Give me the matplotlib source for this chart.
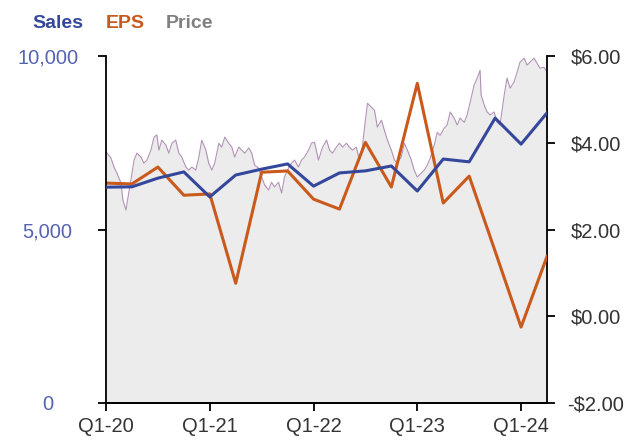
import matplotlib
matplotlib.use("Agg")
import matplotlib.pyplot as plt
from matplotlib.ticker import FuncFormatter

plt.rcParams['font.family'] = ['Liberation Sans', 'DejaVu Sans']

# quarterly data, Q1-20 .. Q2-24
quarters = ['Q1-20', 'Q2-20', 'Q3-20', 'Q4-20', 'Q1-21', 'Q2-21', 'Q3-21', 'Q4-21',
            'Q1-22', 'Q2-22', 'Q3-22', 'Q4-22', 'Q1-23', 'Q2-23', 'Q3-23', 'Q4-23',
            'Q1-24', 'Q2-24']
sales = [6220, 6230, 6480, 6660, 5940, 6570, 6740, 6890, 6250, 6630, 6690, 6830,
         6110, 7030, 6950, 8210, 7460, 8360]
eps = [3.07, 3.05, 3.44, 2.79, 2.82, 0.76, 3.32, 3.35, 2.70, 2.47, 4.01, 2.98,
       5.37, 2.61, 3.23, 1.50, -0.25, 1.38]

# share price (x in quarters since Q1-20)
price_q = [0.0, 0.04, 0.19, 0.31, 0.42, 0.58, 0.65, 0.77, 0.85, 0.96, 1.08, 1.19, 1.35,
           1.46, 1.58, 1.73, 1.85, 1.96, 2.04, 2.15, 2.31, 2.42, 2.54, 2.69, 2.81,
           2.92, 3.08, 3.19, 3.31, 3.46, 3.58, 3.69, 3.85, 3.96, 4.08, 4.19, 4.35,
           4.46, 4.58, 4.73, 4.85, 4.96, 5.12, 5.23, 5.35, 5.50, 5.62, 5.73, 5.88,
           6.00, 6.12, 6.27, 6.38, 6.50, 6.65, 6.77, 6.88, 7.04, 7.15, 7.27, 7.42,
           7.54, 7.65, 7.81, 7.92, 8.04, 8.19, 8.35, 8.50, 8.62, 8.73, 8.88, 9.00,
           9.12, 9.27, 9.38, 9.50, 9.65, 9.77, 9.88, 10.00, 10.08, 10.23, 10.35,
           10.46, 10.62, 10.73, 10.85, 11.00, 11.12, 11.23, 11.38, 11.50, 11.62,
           11.77, 11.88, 12.00, 12.15, 12.27, 12.38, 12.50, 12.65, 12.77, 12.88,
           13.04, 13.15, 13.27, 13.42, 13.54, 13.65, 13.81, 13.92, 14.04, 14.19,
           14.31, 14.42, 14.46, 14.58, 14.69, 14.81, 14.96, 15.08, 15.19, 15.35,
           15.46, 15.58, 15.73, 15.85, 15.96, 16.12, 16.23, 16.35, 16.50, 16.62,
           16.73, 16.88, 17.0]
price = [3.80, 3.76, 3.65, 3.44, 3.30, 3.07, 2.68, 2.45, 2.75, 3.14, 3.60, 3.76, 3.67,
         3.53, 3.60, 3.83, 4.13, 4.18, 3.83, 4.06, 3.95, 3.76, 3.99, 4.06, 3.76,
         3.67, 3.44, 3.37, 3.44, 3.37, 3.67, 4.06, 3.83, 3.53, 3.37, 3.53, 3.99,
         3.90, 4.13, 3.99, 3.90, 3.67, 3.90, 3.83, 3.76, 3.88, 3.76, 3.48, 3.42,
         3.21, 3.02, 2.91, 3.09, 2.98, 3.09, 2.84, 3.21, 3.42, 3.53, 3.60, 3.44,
         3.60, 3.67, 3.83, 3.99, 4.01, 3.60, 3.90, 4.06, 3.83, 3.76, 3.90, 3.99,
         3.90, 3.99, 3.90, 3.83, 3.90, 3.60, 3.90, 4.52, 4.91, 4.82, 4.75,
         4.36, 4.52, 4.29, 4.06, 3.83, 3.60, 3.53, 3.67, 3.99, 3.83,
         3.60, 3.37, 3.21, 3.30, 3.37, 3.48, 3.65, 3.94, 4.24, 4.17,
         4.34, 4.41, 4.71, 4.57, 4.41, 4.57, 4.47, 4.64, 4.94, 5.33,
         5.49, 5.67, 5.10, 4.87, 4.71, 4.64, 4.71, 4.47, 4.41, 5.10,
         5.49, 5.26, 5.40, 5.63, 5.86, 5.95, 5.79, 5.86, 5.95, 5.83,
         5.72, 5.74, 5.63]

sales_color = '#34479a'
eps_color = '#c95a1c'
price_color = '#808080'

fig = plt.figure(figsize=(6.44, 4.41), dpi=100)
ax2 = fig.add_axes([106 / 644, 1 - 403 / 441, 441 / 644, 347 / 441])
ax = ax2.twinx()
ax.yaxis.tick_left()
ax.yaxis.set_label_position('left')
ax2.yaxis.tick_right()

x = list(range(len(quarters)))

# price + EPS on the dollar axis
ax2.fill_between(price_q, price, -2, color='#ececec', lw=0, zorder=1)
ax2.plot(price_q, price, color='#a27aa8', lw=0.8, alpha=0.8, zorder=2)
ax2.plot(x, eps, color=eps_color, lw=2.2, zorder=3)
ax2.set_ylim(-2, 6)
ax2.set_yticks([-2, 0, 2, 4, 6])
ax2.yaxis.set_major_formatter(FuncFormatter(
    lambda v, p: ('-$%.2f' % abs(v)) if v < 0 else '$%.2f' % v))

# sales on the left axis
ax.plot(x, sales, color=sales_color, lw=2.2, zorder=4)
ax.set_ylim(0, 10000)
ax.set_yticks([0, 5000, 10000])
ax.yaxis.set_major_formatter(FuncFormatter(lambda v, p: '{:,.0f}'.format(v)))

ax2.set_xlim(0, 17)
ax2.set_xticks([0, 4, 8, 12, 16])
ax2.set_xticklabels([quarters[i] for i in [0, 4, 8, 12, 16]])

for s in ['top']:
    ax.spines[s].set_visible(False)
    ax2.spines[s].set_visible(False)
ax.spines['right'].set_visible(False)
ax2.spines['left'].set_visible(False)
for a in (ax, ax2):
    for sp in a.spines.values():
        sp.set_linewidth(1.3)

ax.tick_params(axis='y', length=6, width=1.3, pad=36, labelsize=14.5,
               labelcolor='#5563b0')
for t in ax.get_yticklabels():
    t.set_horizontalalignment('center')
ax2.tick_params(axis='y', length=6, width=1.3, pad=29, labelsize=14.5,
                labelcolor='#333333')
for t in ax2.get_yticklabels():
    t.set_horizontalalignment('center')
ax2.tick_params(axis='x', length=6, width=1.3, pad=4, labelsize=14.5,
                labelcolor='#333333')

fig.text(32 / 644, 1 - 28 / 441, 'Sales', color=sales_color, fontsize=14,
         fontweight='bold', va='baseline')
fig.text(106 / 644, 1 - 28 / 441, 'EPS', color=eps_color, fontsize=14,
         fontweight='bold', va='baseline')
fig.text(166 / 644, 1 - 28 / 441, 'Price', color=price_color, fontsize=14,
         fontweight='bold', va='baseline')

fig.savefig('out.png', dpi=100)
